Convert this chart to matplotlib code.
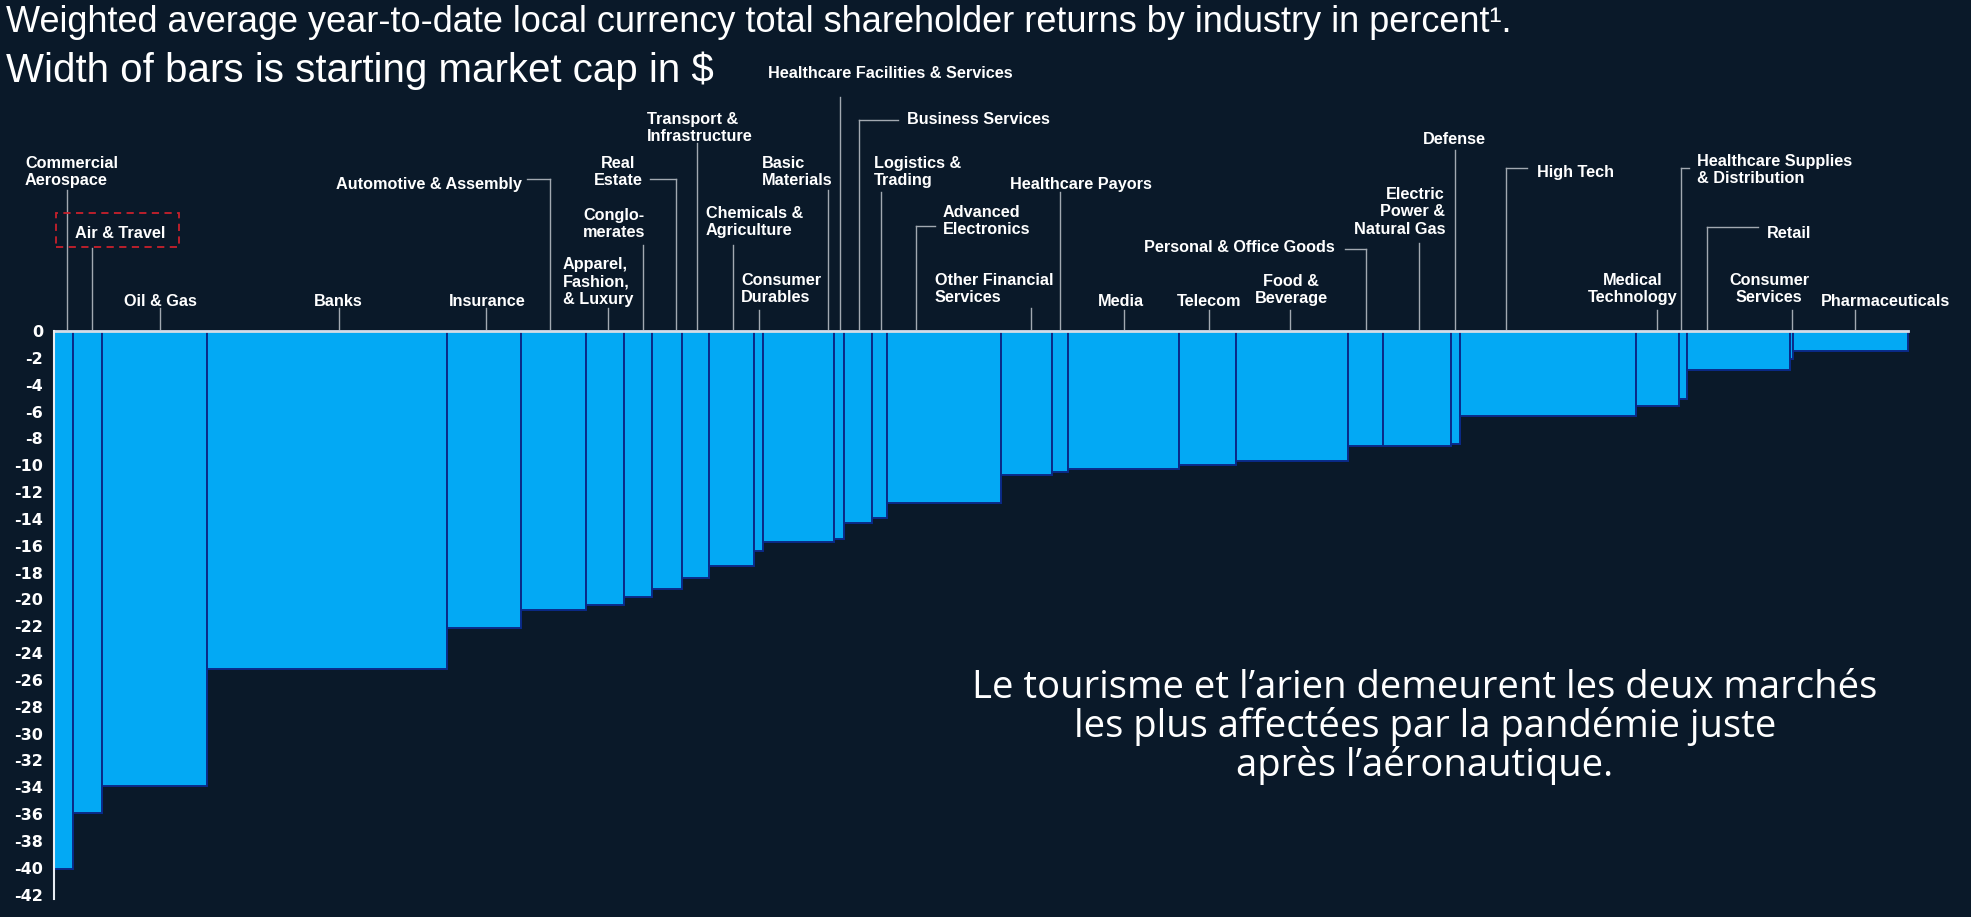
import matplotlib.pyplot as plt
from matplotlib.patches import Rectangle
import numpy as np

# industries, left to right (bar width = starting market cap, relative units)
industries = [
    "Commercial Aerospace", "Air & Travel", "Oil & Gas", "Banks", "Insurance",
    "Automotive & Assembly", "Apparel, Fashion, & Luxury", "Conglomerates",
    "Real Estate", "Transport & Infrastructure", "Chemicals & Agriculture",
    "Consumer Durables", "Basic Materials", "Healthcare Facilities & Services",
    "Business Services", "Logistics & Trading", "Advanced Electronics",
    "Other Financial Services", "Healthcare Payors", "Media", "Telecom",
    "Food & Beverage", "Personal & Office Goods", "Electric Power & Natural Gas",
    "Defense", "High Tech", "Medical Technology",
    "Healthcare Supplies & Distribution", "Retail", "Consumer Services",
    "Pharmaceuticals",
]
market_cap = [
    19.0, 29.0, 104.4, 239.8, 74.0, 65.2, 38.6, 28.0, 29.4, 27.3, 45.0,
    9.3, 71.0, 9.7, 27.7, 15.6, 113.7, 51.3, 15.4, 111.6, 57.0, 112.0,
    35.0, 67.4, 9.3, 176.0, 43.3, 7.4, 103.3, 3.3, 115.0,
]
tsr = [
    -40.1, -35.9, -33.9, -25.2, -22.1, -20.8, -20.4, -19.8, -19.2, -18.4, -17.5,
    -16.4, -15.7, -15.5, -14.3, -13.9, -12.8, -10.7, -10.5, -10.3, -10.0, -9.7,
    -8.6, -8.6, -8.4, -6.3, -5.6, -5.1, -2.9, -2.1, -1.5,
]
label_text = [
    "Commercial\nAerospace", "Air & Travel", "Oil & Gas", "Banks", "Insurance",
    "Automotive & Assembly", "Apparel,\nFashion,\n& Luxury", "Conglo-\nmerates",
    "Real\nEstate", "Transport &\nInfrastructure", "Chemicals &\nAgriculture",
    "Consumer\nDurables", "Basic\nMaterials", "Healthcare Facilities & Services",
    "Business Services", "Logistics &\nTrading", "Advanced\nElectronics",
    "Other Financial\nServices", "Healthcare Payors", "Media", "Telecom",
    "Food &\nBeverage", "Personal & Office Goods", "Electric\nPower &\nNatural Gas",
    "Defense", "High Tech", "Medical\nTechnology",
    "Healthcare Supplies\n& Distribution", "Retail", "Consumer\nServices",
    "Pharmaceuticals",
]
y_ticks = list(range(0, -44, -2))

title_1 = "Weighted average year-to-date local currency total shareholder returns by industry in percent\u00b9."
title_2 = "Width of bars is starting market cap in $"
note = ("Le tourisme et l\u2019arien demeurent les deux marchés\n"
        "les plus affectées par la pandémie juste\n"
        "après l\u2019aéronautique.")

# label layout (image pixels): leader position inside bar, text x/y, align, leader top, elbow end
layout = [
    (0.67, 25, 172, "left", 190, None),
    (0.63, 120, 233, "center", 248, None),
    (0.55, 160, 302, "center", 308, None),
    (0.55, 338, 302, "center", 308, None),
    (0.54, 487, 302, "center", 308, None),
    (0.45, 522, 184, "right", 179, 527),
    (0.59, 563, 282, "left", 308, None),
    (0.67, 614, 224, "center", 245, None),
    (0.81, 618, 172, "center", 179, 650),
    (0.56, 647, 128, "left", 143, None),
    (0.53, 706, 222, "left", 245, None),
    (0.50, 741, 289, "left", 310, None),
    (0.91, 762, 172, "left", 190, None),
    (0.59, 768, 74, "left", 97, None),
    (0.54, 907, 119, "left", 120, 898),
    (0.60, 874, 172, "left", 192, None),
    (0.25, 943, 221, "left", 226, 935),
    (0.58, 935, 289, "left", 308, None),
    (0.50, 1010, 184, "left", 192, None),
    (0.50, 1121, 301, "center", 310, None),
    (0.52, 1209, 301, "center", 310, None),
    (0.48, 1291, 290, "center", 310, None),
    (0.50, 1335, 248, "right", 249, 1345),
    (0.53, 1445, 212, "right", 243, None),
    (0.46, 1454, 139, "center", 150, None),
    (0.26, 1537, 172, "left", 168, 1527),
    (0.48, 1633, 289, "center", 310, None),
    (0.23, 1697, 170, "left", 168, 1689),
    (0.20, 1767, 233, "left", 227, 1758),
    (0.50, 1769, 289, "center", 310, None),
    (0.54, 1886, 302, "center", 310, None),
]

BG = "#0a1929"
BAR = "#03a9f4"
W, H = 1971, 917
X0, Y0, PX_PER_PCT = 54.3, 331, 13.42


def px_x(x):
    return x - X0


def px_y(y):
    return (Y0 - y) / PX_PER_PCT


plt.rcParams["font.family"] = ["Liberation Sans", "DejaVu Sans"]

fig = plt.figure(figsize=(W / 100, H / 100), dpi=100, facecolor=BG)
ax = fig.add_axes([0, 0, 1, 1], facecolor=BG)
ax.set_xlim(px_x(0), px_x(W))
ax.set_ylim(px_y(H), px_y(0))

widths = np.array(market_cap)
lefts = np.concatenate([[0], np.cumsum(widths)[:-1]])
ax.bar(lefts, tsr, width=widths, align="edge", color=BAR,
       edgecolor="#0b2a88", linewidth=1.4, zorder=2)

# zero line and y axis
ax.plot([0, widths.sum()], [0, 0], color="#d5dde6", lw=2.0, zorder=3)
for s in ["top", "right", "bottom"]:
    ax.spines[s].set_visible(False)
ax.spines["left"].set_position(("data", 0))
ax.spines["left"].set_bounds(-42.3, 0)
ax.spines["left"].set_color("#e8edf2")
ax.spines["left"].set_linewidth(1.5)
ax.spines["left"].set_zorder(4)
ax.set_xticks([])
ax.set_yticks(y_ticks)
ax.set_yticklabels([str(t) for t in y_ticks])
ax.tick_params(axis="y", length=0, pad=8, labelcolor="white", labelsize=11.5)
for lbl in ax.get_yticklabels():
    lbl.set_fontweight("bold")
    lbl.set_family(["DejaVu Sans"])

# category labels with leader lines
lead_kw = dict(color="#a2a9b1", lw=1.0, zorder=1)
for i, (frac, tx, ty, ha, top, elbow) in enumerate(layout):
    lx = lefts[i] + frac * widths[i]
    ax.plot([lx, lx], [0, px_y(top)], **lead_kw)
    if elbow is not None:
        ax.plot([lx, px_x(elbow)], [px_y(top), px_y(top)], **lead_kw)
    ax.text(px_x(tx), px_y(ty), label_text[i], ha=ha, va="center",
            multialignment=ha, color="white", fontsize=11.7,
            fontweight="bold", linespacing=1.22, zorder=5)

# highlight box around Air & Travel
ax.add_patch(Rectangle((px_x(56), px_y(247)), 123, 34 / PX_PER_PCT,
                       fill=False, edgecolor="#c8202c", linestyle=(0, (4, 3)),
                       lw=1.3, zorder=6))

fig.text(6 / W, 1 - 22 / H, title_1, color="white", fontsize=26,
         ha="left", va="center")
fig.text(6 / W, 1 - 71 / H, title_2, color="white", fontsize=29,
         ha="left", va="center")

fig.text(1425 / W, 1 - 727 / H, note, color="white", fontsize=27.5,
         family=["Open Sans", "DejaVu Sans"],
         ha="center", va="center", linespacing=1.0)

fig.savefig("out.png", dpi=100, facecolor=BG)
